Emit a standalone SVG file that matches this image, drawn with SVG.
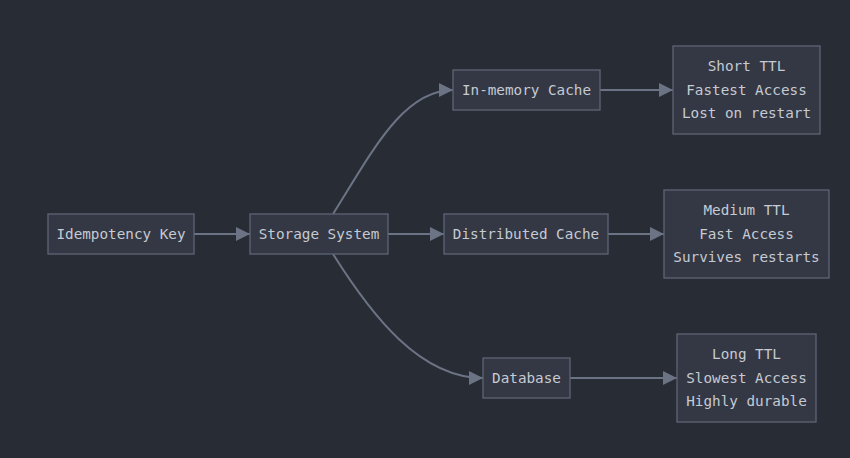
<svg xmlns="http://www.w3.org/2000/svg" width="850" height="458" viewBox="0 0 850 458">
<style>
.n rect{fill:#343844;stroke:#5d6475;stroke-width:1.3}
.n text{font-family:"DejaVu Sans Mono","Liberation Mono",monospace;font-size:14.3px;fill:#c5cad3;text-anchor:middle;dominant-baseline:central}
.e path{fill:none;stroke:#6b7385;stroke-width:2}
</style>
<defs>
<marker id="ah" viewBox="0 0 14 14" refX="14" refY="7" markerWidth="14" markerHeight="14" markerUnits="userSpaceOnUse" orient="auto">
<path d="M0,0 L14,7 L0,14 Z" fill="#6b7385"/>
</marker>
</defs>
<rect width="850" height="458" fill="#282c35"/>
<g class="e">
<path d="M194,234 L250,234" marker-end="url(#ah)"/>
<path d="M333,214 C372,152 403,90 453,90" marker-end="url(#ah)"/>
<path d="M388,234 L444,234" marker-end="url(#ah)"/>
<path d="M333,254 C372,316 420,378 483,378" marker-end="url(#ah)"/>
<path d="M600,90 L673,90" marker-end="url(#ah)"/>
<path d="M608,234 L664,234" marker-end="url(#ah)"/>
<path d="M570,378 L677,378" marker-end="url(#ah)"/>
</g>
<g class="n" id="idem"><rect x="48" y="214" width="146" height="40"/><text x="121" y="234">Idempotency Key</text></g>
<g class="n" id="storage"><rect x="250" y="214" width="138" height="40"/><text x="319" y="234">Storage System</text></g>
<g class="n" id="mem"><rect x="453" y="70" width="147" height="40"/><text x="526.5" y="90">In-memory Cache</text></g>
<g class="n" id="dist"><rect x="444" y="214" width="164" height="40"/><text x="526" y="234">Distributed Cache</text></g>
<g class="n" id="db"><rect x="483" y="358" width="87" height="40"/><text x="526.5" y="378">Database</text></g>
<g class="n" id="short"><rect x="673" y="46" width="147" height="88"/><text x="746.5" y="66">Short TTL</text><text x="746.5" y="90">Fastest Access</text><text x="746.5" y="113">Lost on restart</text></g>
<g class="n" id="medium"><rect x="664" y="190" width="165" height="88"/><text x="746.5" y="210">Medium TTL</text><text x="746.5" y="234">Fast Access</text><text x="746.5" y="257">Survives restarts</text></g>
<g class="n" id="long"><rect x="677" y="334" width="139" height="88"/><text x="746.5" y="354">Long TTL</text><text x="746.5" y="378">Slowest Access</text><text x="746.5" y="401">Highly durable</text></g>
</svg>
